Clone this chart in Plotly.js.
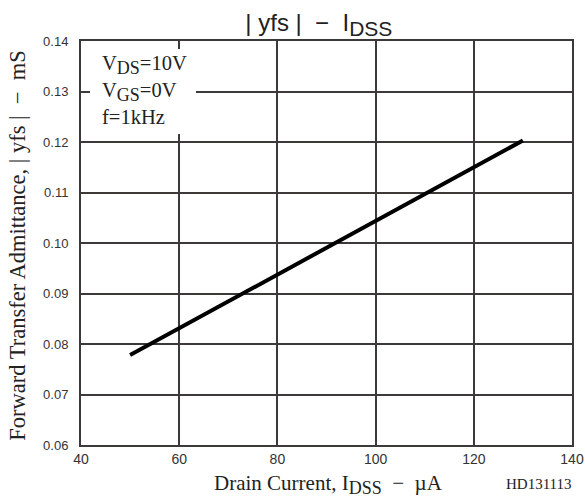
<!DOCTYPE html>
<html>
<head>
<meta charset="utf-8">
<script src="https://cdn.plot.ly/plotly-3.0.1.min.js"></script>
<style>html,body{margin:0;padding:0;background:#fff;}#chart{width:585px;height:502px;}</style>
</head>
<body>
<div id="chart"></div>
<script>
// Data
const idss = [50, 60, 80, 100, 120, 130];           // Drain current I_DSS (µA)
const yfs  = [0.0778, 0.0831, 0.0938, 0.1043, 0.1149, 0.1203]; // |yfs| (mS)
const xTicks = [40, 60, 80, 100, 120, 140];
const yTicks = [0.06, 0.07, 0.08, 0.09, 0.10, 0.11, 0.12, 0.13, 0.14];
const yTickText = ['0.06','0.07','0.08','0.09','0.10','0.11','0.12','0.13','0.14'];
const conditions = [
  'V<sub><span style="font-size:18px">DS</span></sub>=10V',
  'V<sub><span style="font-size:18px">GS</span></sub>=0V',
  'f=1kHz'
];

const gridColor = '#3d3939';
const serif = 'Liberation Serif, Times New Roman, serif';
const sans = 'Liberation Sans, Arial, sans-serif';

const trace = {
  x: idss, y: yfs, type: 'scatter', mode: 'lines',
  line: {color: '#000', width: 4}, hoverinfo: 'skip'
};

const condY = [0.9406, 0.8738, 0.8119];
const condAnn = conditions.map((t, i) => ({
  text: t, xref: 'paper', yref: 'paper',
  x: 0.0387, y: condY[i],
  xanchor: 'left', yanchor: 'middle', showarrow: false,
  font: {family: serif, size: 20.5, color: '#222'}
}));

const layout = {
  width: 585, height: 502,
  margin: {l: 81, r: 13, t: 41, b: 57},
  paper_bgcolor: '#fff', plot_bgcolor: '#fff',
  showlegend: false,
  title: {
    text: '| yfs |  −  I<sub><span style="font-size:21px">DSS</span></sub>',
    font: {family: sans, size: 24, color: '#222'},
    x: 0.545, xref: 'container', xanchor: 'center',
    y: 0.955, yref: 'container', yanchor: 'middle'
  },
  xaxis: {
    range: [40, 140], tickvals: xTicks, ticktext: xTicks.map(String),
    showgrid: true, gridcolor: gridColor, gridwidth: 2,
    showline: true, linecolor: gridColor, linewidth: 2, mirror: true,
    ticks: '', zeroline: false, ticklabelstandoff: 0,
    tickfont: {family: sans, size: 14, color: '#333'}
  },
  yaxis: {
    range: [0.06, 0.14], tickvals: yTicks, ticktext: yTickText,
    showgrid: true, gridcolor: gridColor, gridwidth: 2,
    showline: true, linecolor: gridColor, linewidth: 2, mirror: true,
    ticks: '', zeroline: false, ticklabelstandoff: 8,
    tickfont: {family: sans, size: 13, color: '#333'}
  },
  shapes: [{
    type: 'rect', xref: 'paper', yref: 'paper', layer: 'above',
    x0: 0.0183, x1: 0.2342, y0: 0.770, y1: 0.980,
    fillcolor: '#fff', line: {width: 0}
  }],
  annotations: [
    ...condAnn,
    {
      text: 'Forward Transfer Admittance, | yfs |  −  mS',
      xref: 'paper', yref: 'paper', x: -0.129, y: 0.4926, textangle: -90,
      xanchor: 'center', yanchor: 'middle', showarrow: false,
      font: {family: serif, size: 22.5, color: '#222'}
    },
    {
      text: 'Drain Current, I<sub><span style="font-size:18px">DSS</span></sub>  −  µA',
      xref: 'paper', yref: 'paper', x: 0.505, y: -0.097,
      xanchor: 'center', yanchor: 'middle', showarrow: false,
      font: {family: serif, size: 21, color: '#222'}
    },
    {
      text: 'HD131113',
      xref: 'paper', yref: 'paper', x: 0.933, y: -0.097,
      xanchor: 'center', yanchor: 'middle', showarrow: false,
      font: {family: serif, size: 15, color: '#222'}
    }
  ]
};

Plotly.newPlot('chart', [trace], layout, {displayModeBar: false, staticPlot: true});
</script>
</body>
</html>
